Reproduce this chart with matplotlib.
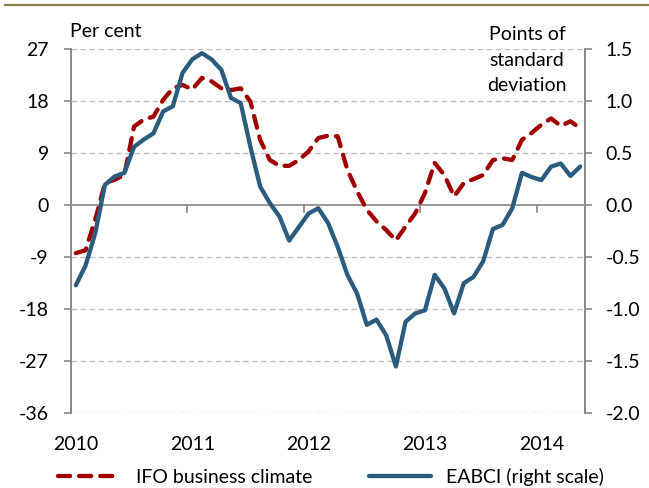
import matplotlib
matplotlib.use("Agg")
import matplotlib.pyplot as plt
from matplotlib.lines import Line2D
import numpy as np

plt.rcParams['font.family'] = ['Lato', 'DejaVu Sans']

# Monthly data, Jan 2010 - May 2014
ifo = [-8.3, -7.8, -2.5, 3.8, 4.4, 5.2, 13.6, 14.8, 15.3, 18.2,
       20.2, 20.8, 20.0, 22.0, 21.4, 20.2, 19.9, 20.2, 17.9, 11.3,
       7.8, 6.8, 6.8, 7.8, 9.3, 11.6, 12.0, 11.9, 6.1, 2.4,
       -0.8, -2.8, -4.3, -6.1, -3.7, -1.4, 2.1, 7.3, 5.2, 1.5,
       3.8, 4.5, 5.2, 7.8, 8.1, 7.8, 11.3, 12.5, 13.9, 15.0,
       13.7, 14.5, 13.3]
eabci = [-0.77, -0.58, -0.27, 0.195, 0.275, 0.31, 0.56, 0.63, 0.69, 0.90,
         0.95, 1.27, 1.40, 1.46, 1.40, 1.30, 1.03, 0.98, 0.56, 0.18,
         0.02, -0.11, -0.34, -0.21, -0.08, -0.03, -0.17, -0.40, -0.67, -0.85,
         -1.15, -1.10, -1.25, -1.55, -1.12, -1.04, -1.01, -0.67, -0.80, -1.04,
         -0.75, -0.69, -0.54, -0.23, -0.19, -0.03, 0.31, 0.27, 0.24, 0.37,
         0.40, 0.28, 0.37]
year_labels = ['2010', '2011', '2012', '2013', '2014']
left_ticks = [-36, -27, -18, -9, 0, 9, 18, 27]
right_ticks = [-2.0, -1.5, -1.0, -0.5, 0.0, 0.5, 1.0, 1.5]

RED = '#A00000'
BLUE = '#2B5C7E'
GRID = '#BFBFBF'
AX = '#868686'
FS = 14
DASH = (0, (2.8, 2.1))

fig = plt.figure(figsize=(6.49, 4.88), dpi=100)
ax = fig.add_axes([71/649, 1-413.3/488, (585-71)/649, (413.3-49)/488])
ax2 = ax.twinx()

x = np.arange(len(ifo))
ax.set_xlim(-0.5, len(ifo) - 0.5)
ax.set_ylim(-36, 27)
ax2.set_ylim(-2.0, 1.5)

# grid
for v in left_ticks:
    if v == 0:
        ax.axhline(v, color=AX, lw=1.2, zorder=1)
    else:
        ax.axhline(v, color=GRID, lw=1.0, ls=(0, (4, 2.5)), zorder=1)

ax.plot(x, ifo, color=RED, lw=3.1, ls=DASH, dash_capstyle='round',
        solid_capstyle='round', zorder=3)
ax2.plot(x, eabci, color=BLUE, lw=3.1, solid_capstyle='round',
         solid_joinstyle='round', zorder=4)

for a in (ax, ax2):
    for s in ('top', 'bottom'):
        a.spines[s].set_visible(False)
    a.spines['left'].set_color(AX)
    a.spines['right'].set_color(AX)
    a.spines['left'].set_linewidth(1.2)
    a.spines['right'].set_linewidth(1.2)

ax.set_yticks(left_ticks)
ax.set_yticklabels([str(v) for v in left_ticks])
ax2.set_yticks(right_ticks)
ax2.set_yticklabels(['%.1f' % v for v in right_ticks])
ax.tick_params(axis='y', direction='out', length=5, width=1.2, color=AX,
               labelsize=FS, pad=11)
ax2.tick_params(axis='y', direction='out', length=5, width=1.2, color=AX,
                labelsize=FS, pad=10)

# x ticks: labels at January, tick marks at year boundaries on zero line
ax.set_xticks([0, 12, 24, 36, 48])
ax.set_xticklabels(year_labels)
ax.tick_params(axis='x', length=0, labelsize=FS, pad=16)
for b in [11.5, 23.5, 35.5, 47.5]:
    ax.plot([b, b], [0, -1.2], color=AX, lw=1.2, zorder=2, clip_on=False)

fig.text(70/649, 1-31.5/488, 'Per cent', fontsize=FS, ha='left', va='center')
fig.text(527/649, 1-60/488, 'Points of\nstandard\ndeviation', fontsize=FS,
         ha='center', va='center', linespacing=1.6)

# top decorative rule
fig.add_artist(Line2D([5/649, 1.0], [1-4.5/488, 1-4.5/488], color='#8B7D4E',
                      lw=1.6, transform=fig.transFigure))

handles = [Line2D([], [], color=RED, lw=3.1, ls=DASH, dash_capstyle='round'),
           Line2D([], [], color=BLUE, lw=3.1, solid_capstyle='round')]
fig.legend(handles, ['IFO business climate', 'EABCI (right scale)'],
           loc='center left', bbox_to_anchor=(58/649, 1-477/488), ncol=2,
           frameon=False, fontsize=FS, handlelength=3.2, columnspacing=2.9,
           handletextpad=0.8, borderpad=0, borderaxespad=0)

fig.savefig('out.png', dpi=100)
